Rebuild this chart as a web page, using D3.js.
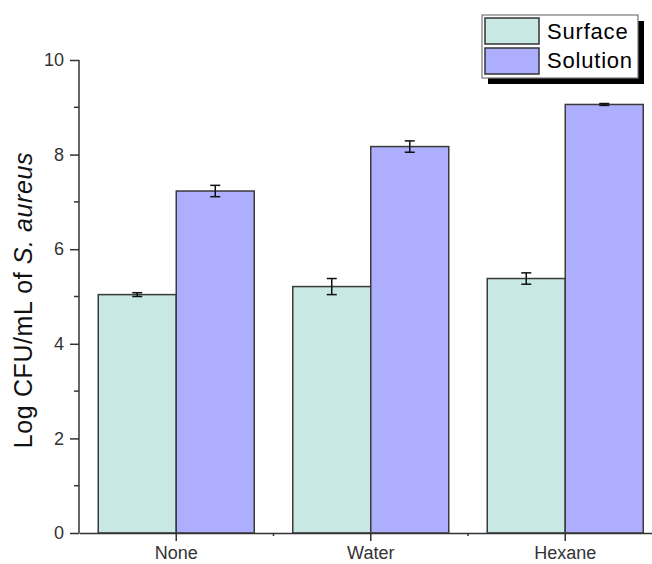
<!DOCTYPE html>
<html>
<head>
<meta charset="utf-8">
<script src="https://cdn.jsdelivr.net/npm/d3@7"></script>
<style>
  body { margin: 0; background: #fff; }
  text { font-family: Arial, "Liberation Sans", sans-serif; }
</style>
</head>
<body>
<div id="chart"></div>
<script>
// categories and series
const categories = ["None", "Water", "Hexane"];
const seriesNames = ["Surface", "Solution"];
const surfaceMeans = [5.04, 5.21, 5.38];
const surfaceErrs = [0.04, 0.17, 0.12];
const solutionMeans = [7.23, 8.17, 9.06];
const solutionErrs = [0.12, 0.12, 0.02];
const yTicks = [0, 2, 4, 6, 8, 10];

const colors = ["#c8e8e3", "#aeaeff"];

const width = 652, height = 564;
const svg = d3.select("#chart").append("svg")
    .attr("width", width)
    .attr("height", height);

const x0 = 79, yBase = 533, yTop = 60;
const step = 194.5;

const x = d3.scaleBand()
    .domain(categories)
    .range([x0, x0 + step * categories.length])
    .padding(0);

const y = d3.scaleLinear().domain([0, 10]).range([yBase, yTop]);

const barW = 78;
const rows = [];
categories.forEach((c, i) => {
    rows.push({ cat: c, s: 0, v: surfaceMeans[i], e: surfaceErrs[i] });
    rows.push({ cat: c, s: 1, v: solutionMeans[i], e: solutionErrs[i] });
});
const cx = d => x(d.cat) + x.bandwidth() / 2;
const barX = d => d.s === 0 ? cx(d) - barW : cx(d);

// bars
svg.append("g")
    .selectAll("rect")
    .data(rows)
    .join("rect")
    .attr("x", barX)
    .attr("y", d => y(d.v))
    .attr("width", barW)
    .attr("height", d => y(0) - y(d.v))
    .attr("fill", d => colors[d.s])
    .attr("stroke", "#3a3a3a")
    .attr("stroke-width", 1.5);

// error bars
const eb = svg.append("g").attr("stroke", "#111").attr("stroke-width", 1.5);
rows.forEach(d => {
    const mx = barX(d) + barW / 2;
    eb.append("line").attr("x1", mx).attr("x2", mx).attr("y1", y(d.v + d.e)).attr("y2", y(d.v - d.e));
    [d.v + d.e, d.v - d.e].forEach(v => {
        eb.append("line").attr("x1", mx - 5).attr("x2", mx + 5).attr("y1", y(v)).attr("y2", y(v));
    });
});

// y axis
const yAxis = svg.append("g")
    .attr("transform", `translate(${x0},0)`)
    .call(d3.axisLeft(y).tickValues(yTicks).tickSize(9).tickPadding(6).tickFormat(d3.format("d")));
yAxis.select(".domain").attr("stroke", "#333").attr("stroke-width", 1.5).attr("d", `M0,${yBase}V${yTop}`);
yAxis.selectAll(".tick line").attr("stroke", "#333").attr("stroke-width", 1.5);
yAxis.selectAll("text").attr("font-size", 18).attr("fill", "#333");
yAxis.selectAll(".minor")
    .data([1, 3, 5, 7, 9])
    .join("line")
    .attr("class", "minor")
    .attr("x1", -5).attr("x2", 0)
    .attr("y1", d => y(d)).attr("y2", d => y(d))
    .attr("stroke", "#333").attr("stroke-width", 1.5);

// x axis
const xAxis = svg.append("g")
    .attr("transform", `translate(0,${yBase})`)
    .call(d3.axisBottom(x).tickSize(8).tickPadding(5).tickSizeOuter(0));
xAxis.select(".domain").attr("stroke", "#333").attr("stroke-width", 1.5);
xAxis.selectAll(".tick line").attr("stroke", "#333").attr("stroke-width", 1.5);
xAxis.selectAll("text").attr("font-size", 18).attr("fill", "#333");
xAxis.selectAll(".minor")
    .data(categories.slice(1))
    .join("line")
    .attr("class", "minor")
    .attr("x1", d => x(d)).attr("x2", d => x(d))
    .attr("y1", 0).attr("y2", 3)
    .attr("stroke", "#333").attr("stroke-width", 1.5);

// y title
const yt = svg.append("text")
    .attr("transform", `translate(32,300) rotate(-90)`)
    .attr("text-anchor", "middle")
    .attr("font-size", 25)
    .attr("letter-spacing", 0.6)
    .attr("fill", "#111");
yt.append("tspan").text("Log CFU/mL of ");
yt.append("tspan").attr("font-style", "italic").text("S. aureus");

// legend
const lg = svg.append("g").attr("transform", "translate(482,15)");
lg.append("rect").attr("x", 6).attr("y", 6).attr("width", 156).attr("height", 63).attr("fill", "#000");
lg.append("rect").attr("width", 156).attr("height", 63).attr("fill", "#fff").attr("stroke", "#777").attr("stroke-width", 1.2);
seriesNames.forEach((n, i) => {
    lg.append("rect")
        .attr("x", 3).attr("y", 3 + i * 30)
        .attr("width", 54).attr("height", 26)
        .attr("fill", colors[i])
        .attr("stroke", "#333").attr("stroke-width", 1.5);
    lg.append("text")
        .attr("x", 65).attr("y", 24 + i * 29)
        .attr("font-size", 22)
        .attr("letter-spacing", 0.8)
        .attr("fill", "#000")
        .text(n);
});
</script>
</body>
</html>
